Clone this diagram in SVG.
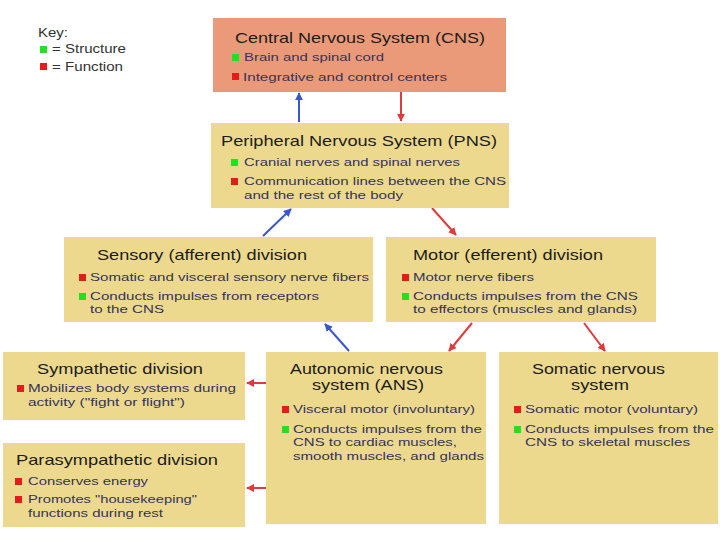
<svg xmlns="http://www.w3.org/2000/svg" width="720" height="540" viewBox="0 0 720 540">
<defs>
<marker id="ab" viewBox="0 0 10 10" refX="9" refY="5" markerWidth="4" markerHeight="4" orient="auto" markerUnits="strokeWidth"><path d="M0,0 L10,5 L0,10 z" fill="#3a55d0"/></marker>
<marker id="ar" viewBox="0 0 10 10" refX="9" refY="5" markerWidth="4" markerHeight="4" orient="auto" markerUnits="strokeWidth"><path d="M0,0 L10,5 L0,10 z" fill="#e03a3a"/></marker>
</defs>
<style>
.box{fill:#ecd98d}
.cns{fill:#eb9a79}
.t{font-family:"Liberation Sans",Arial,sans-serif;font-size:15px;fill:#1c1c1c}
.b{font-family:"Liberation Sans",Arial,sans-serif;font-size:11.5px;fill:#34345c}
.k{font-family:"Liberation Sans",Arial,sans-serif;font-size:12.5px;fill:#333}
.g{fill:#22e022}
.r{fill:#e61c1c}
.cb{stroke:#3a55d0;stroke-width:2;fill:none}
.cr{stroke:#e03a3a;stroke-width:2;fill:none}
</style>
<rect width="720" height="540" fill="#ffffff"/>
<g id="key">
<text class="k" x="38" y="37" textLength="30" lengthAdjust="spacingAndGlyphs">Key:</text>
<rect class="g" x="40" y="46" width="7" height="7"/>
<text class="k" x="52" y="53" textLength="74" lengthAdjust="spacingAndGlyphs">= Structure</text>
<rect class="r" x="40" y="63" width="7" height="7"/>
<text class="k" x="52" y="71" textLength="71" lengthAdjust="spacingAndGlyphs">= Function</text>
</g>
<g id="connectors">
<line class="cb" x1="299" y1="122" x2="299" y2="93" marker-end="url(#ab)"/>
<line class="cr" x1="401" y1="92" x2="401" y2="121" marker-end="url(#ar)"/>
<line class="cb" x1="263" y1="236" x2="291" y2="209" marker-end="url(#ab)"/>
<line class="cr" x1="432" y1="208" x2="456" y2="235" marker-end="url(#ar)"/>
<line class="cb" x1="349" y1="351" x2="325" y2="324" marker-end="url(#ab)"/>
<line class="cr" x1="472" y1="323" x2="449" y2="351" marker-end="url(#ar)"/>
<line class="cr" x1="584" y1="323" x2="605" y2="351" marker-end="url(#ar)"/>
<line class="cr" x1="266" y1="383" x2="247" y2="383" marker-end="url(#ar)"/>
<line class="cr" x1="266" y1="488" x2="247" y2="488" marker-end="url(#ar)"/>
</g>
<g id="cns">
<rect class="cns" x="213" y="18" width="293" height="74"/>
<text class="t" x="235" y="43" textLength="250" lengthAdjust="spacingAndGlyphs">Central Nervous System (CNS)</text>
<rect class="g" x="232" y="54" width="7" height="7"/>
<text class="b" x="244" y="61" textLength="140" lengthAdjust="spacingAndGlyphs">Brain and spinal cord</text>
<rect class="r" x="232" y="73" width="7" height="7"/>
<text class="b" x="243" y="81" textLength="204" lengthAdjust="spacingAndGlyphs">Integrative and control centers</text>
</g>
<g id="pns">
<rect class="box" x="211" y="123" width="298" height="85"/>
<text class="t" x="221" y="146" textLength="276" lengthAdjust="spacingAndGlyphs">Peripheral Nervous System (PNS)</text>
<rect class="g" x="231" y="159" width="7" height="7"/>
<text class="b" x="244" y="166" textLength="216" lengthAdjust="spacingAndGlyphs">Cranial nerves and spinal nerves</text>
<rect class="r" x="231" y="178" width="7" height="7"/>
<text class="b" x="244" y="185" textLength="262" lengthAdjust="spacingAndGlyphs">Communication lines between the CNS</text>
<text class="b" x="244" y="199" textLength="159" lengthAdjust="spacingAndGlyphs">and the rest of the body</text>
</g>
<g id="sensory">
<rect class="box" x="64" y="237" width="309" height="85"/>
<text class="t" x="97" y="260" textLength="210" lengthAdjust="spacingAndGlyphs">Sensory (afferent) division</text>
<rect class="r" x="79" y="274" width="7" height="7"/>
<text class="b" x="90" y="281" textLength="279" lengthAdjust="spacingAndGlyphs">Somatic and visceral sensory nerve fibers</text>
<rect class="g" x="79" y="293" width="7" height="7"/>
<text class="b" x="90" y="300" textLength="229" lengthAdjust="spacingAndGlyphs">Conducts impulses from receptors</text>
<text class="b" x="90" y="313" textLength="74" lengthAdjust="spacingAndGlyphs">to the CNS</text>
</g>
<g id="motor">
<rect class="box" x="386" y="237" width="270" height="85"/>
<text class="t" x="413" y="260" textLength="190" lengthAdjust="spacingAndGlyphs">Motor (efferent) division</text>
<rect class="r" x="402" y="274" width="7" height="7"/>
<text class="b" x="413" y="281" textLength="121" lengthAdjust="spacingAndGlyphs">Motor nerve fibers</text>
<rect class="g" x="402" y="293" width="7" height="7"/>
<text class="b" x="413" y="300" textLength="225" lengthAdjust="spacingAndGlyphs">Conducts impulses from the CNS</text>
<text class="b" x="413" y="313" textLength="224" lengthAdjust="spacingAndGlyphs">to effectors (muscles and glands)</text>
</g>
<g id="sympathetic">
<rect class="box" x="3" y="352" width="242" height="68"/>
<text class="t" x="37" y="374" textLength="166" lengthAdjust="spacingAndGlyphs">Sympathetic division</text>
<rect class="r" x="17" y="385" width="7" height="7"/>
<text class="b" x="28" y="392" textLength="208" lengthAdjust="spacingAndGlyphs">Mobilizes body systems during</text>
<text class="b" x="28" y="406" textLength="157" lengthAdjust="spacingAndGlyphs">activity ("fight or flight")</text>
</g>
<g id="parasympathetic">
<rect class="box" x="3" y="443" width="242" height="84"/>
<text class="t" x="16" y="465" textLength="202" lengthAdjust="spacingAndGlyphs">Parasympathetic division</text>
<rect class="r" x="15" y="478" width="7" height="7"/>
<text class="b" x="28" y="485" textLength="120" lengthAdjust="spacingAndGlyphs">Conserves energy</text>
<rect class="r" x="15" y="496" width="7" height="7"/>
<text class="b" x="28" y="503" textLength="169" lengthAdjust="spacingAndGlyphs">Promotes "housekeeping"</text>
<text class="b" x="28" y="517" textLength="135" lengthAdjust="spacingAndGlyphs">functions during rest</text>
</g>
<g id="ans">
<rect class="box" x="266" y="352" width="220" height="172"/>
<text class="t" x="290" y="374" textLength="153" lengthAdjust="spacingAndGlyphs">Autonomic nervous</text>
<text class="t" x="312" y="390" textLength="112" lengthAdjust="spacingAndGlyphs">system (ANS)</text>
<rect class="r" x="282" y="406" width="7" height="7"/>
<text class="b" x="293" y="413" textLength="182" lengthAdjust="spacingAndGlyphs">Visceral motor (involuntary)</text>
<rect class="g" x="282" y="426" width="7" height="7"/>
<text class="b" x="293" y="433" textLength="189" lengthAdjust="spacingAndGlyphs">Conducts impulses from the</text>
<text class="b" x="293" y="446" textLength="164" lengthAdjust="spacingAndGlyphs">CNS to cardiac muscles,</text>
<text class="b" x="293" y="460" textLength="191" lengthAdjust="spacingAndGlyphs">smooth muscles, and glands</text>
</g>
<g id="somatic">
<rect class="box" x="499" y="352" width="219" height="172"/>
<text class="t" x="532" y="374" textLength="133" lengthAdjust="spacingAndGlyphs">Somatic nervous</text>
<text class="t" x="571" y="390" textLength="58" lengthAdjust="spacingAndGlyphs">system</text>
<rect class="r" x="514" y="406" width="7" height="7"/>
<text class="b" x="525" y="413" textLength="173" lengthAdjust="spacingAndGlyphs">Somatic motor (voluntary)</text>
<rect class="g" x="514" y="426" width="7" height="7"/>
<text class="b" x="525" y="433" textLength="189" lengthAdjust="spacingAndGlyphs">Conducts impulses from the</text>
<text class="b" x="525" y="446" textLength="165" lengthAdjust="spacingAndGlyphs">CNS to skeletal muscles</text>
</g>
</svg>
